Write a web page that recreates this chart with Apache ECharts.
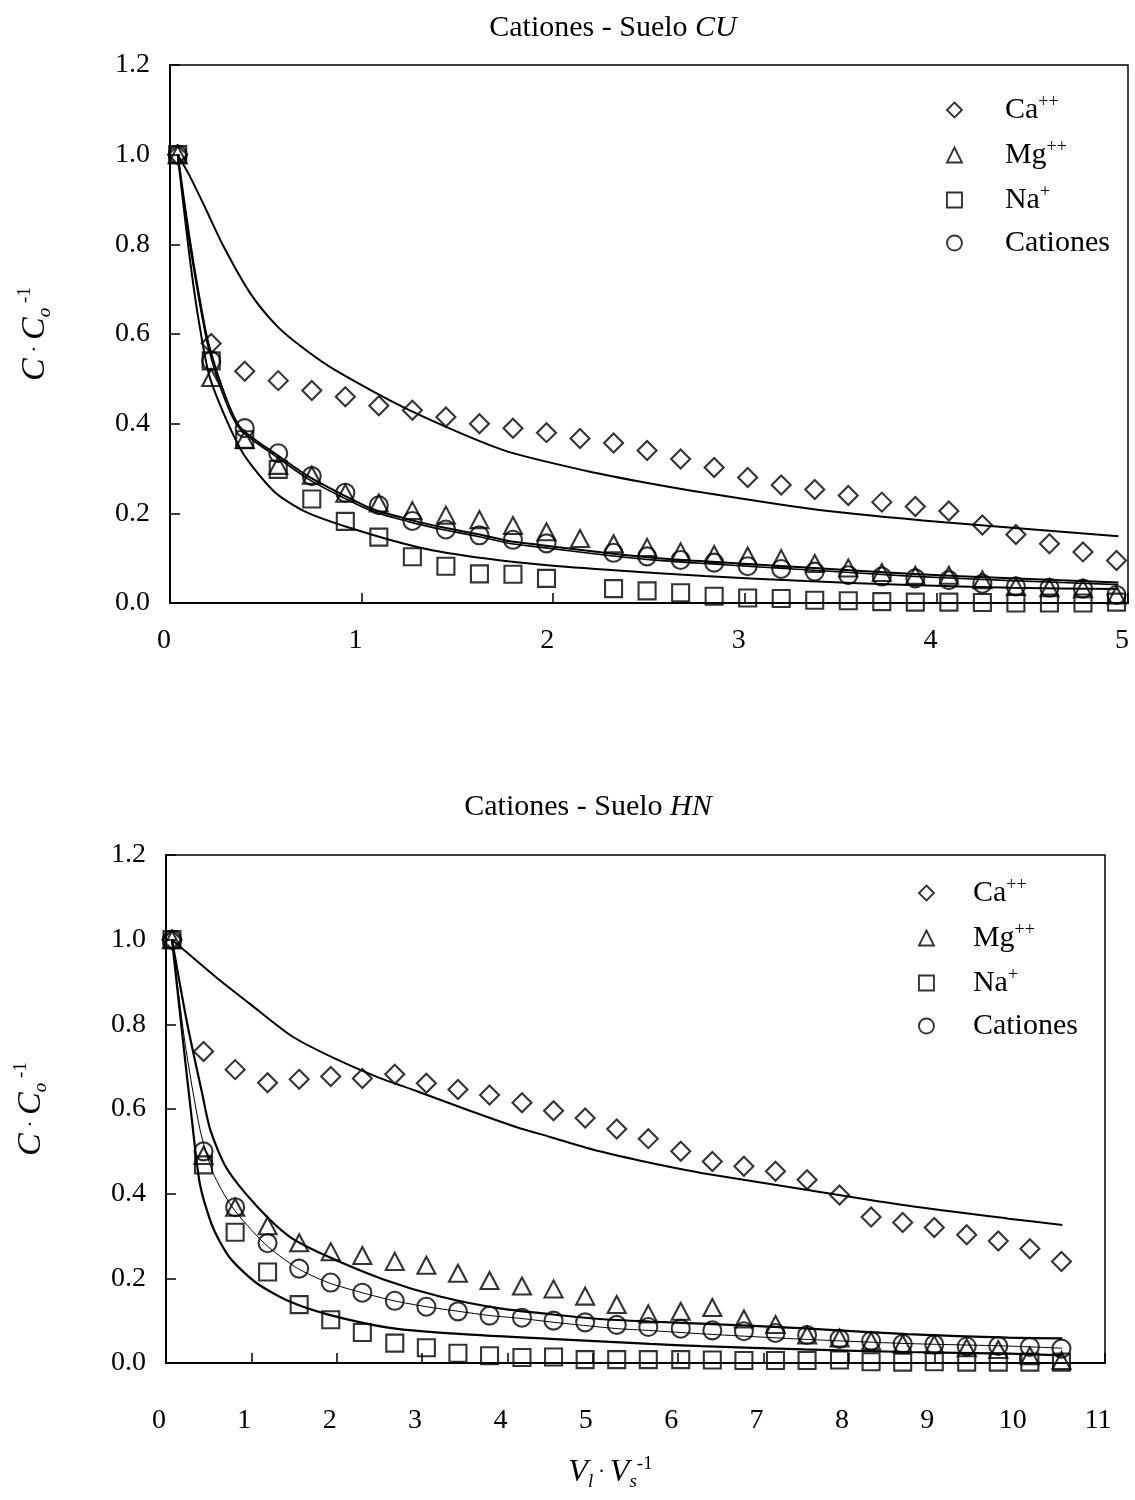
<!DOCTYPE html>
<html><head><meta charset="utf-8">
<script src="https://cdn.jsdelivr.net/npm/echarts@6/dist/echarts.min.js"></script>
<style>html,body{margin:0;padding:0;background:#fff}#c{width:1135px;height:1500px}</style>
</head><body><div id="c"></div>
<script>
// ---------- Tick labels ----------
const Y_TICKS = ['0.0','0.2','0.4','0.6','0.8','1.0','1.2'];
const TOP_X_TICKS = ['0','1','2','3','4','5'];
const BOT_X_TICKS = ['0','1','2','3','4','5','6','7','8','9','10','11'];

// ---------- Suelo CU (top) ----------
const TOP_X   = [0.04,0.215,0.39,0.565,0.74,0.915,1.09,1.265,1.44,1.615,1.79,1.965,2.14,2.315,2.49,2.665,2.84,3.015,3.19,3.365,3.54,3.715,3.89,4.065,4.24,4.415,4.59,4.765,4.94];
const TOP_CA  = [1.0,0.579,0.517,0.496,0.474,0.460,0.440,0.430,0.415,0.400,0.390,0.380,0.367,0.357,0.340,0.321,0.302,0.280,0.263,0.253,0.240,0.225,0.215,0.205,0.174,0.153,0.132,0.114,0.095];
const TOP_MG  = [1.0,0.503,0.365,0.307,0.285,0.245,0.223,0.206,0.196,0.186,0.173,0.159,0.144,0.132,0.124,0.114,0.108,0.105,0.099,0.088,0.078,0.068,0.062,0.062,0.052,0.037,0.034,0.032,0.018];
const TOP_NA  = [1.0,0.54,0.364,0.298,0.232,0.182,0.147,0.103,0.082,0.065,0.064,0.055,null,0.032,0.027,0.023,0.015,0.011,0.010,0.006,0.005,0.003,0.002,0.002,0.001,0.0,0.0,0.0,0.002];
const TOP_CAT = [1.0,0.54,0.39,0.334,0.283,0.246,0.218,0.183,0.164,0.151,0.141,0.133,null,0.112,0.104,0.096,0.090,0.082,0.076,0.070,0.062,0.059,0.055,0.051,0.043,0.037,0.034,0.032,0.018];

const TOP_FIT_CA_X  = [0.04,0.10,0.18,0.28,0.42,0.56,0.70,0.86,1.26,1.74,2.18,2.50,2.73,3.38,4.04,4.95];
const TOP_FIT_CA_Y  = [1.0,0.955,0.885,0.795,0.69,0.617,0.567,0.52,0.428,0.341,0.294,0.267,0.25,0.208,0.18,0.149];
const TOP_FIT_MG_X  = [0.04,0.10,0.15,0.20,0.29,0.37,0.56,0.72,0.89,1.06,1.25,1.42,1.59,1.76,1.94,2.29,2.55,2.79,3.32,3.86,4.39,4.95];
const TOP_FIT_MG_Y  = [1.0,0.82,0.69,0.58,0.46,0.39,0.33,0.283,0.244,0.209,0.186,0.169,0.155,0.139,0.129,0.111,0.100,0.093,0.079,0.065,0.055,0.046];
const TOP_FIT_CAT_Y = [1.0,0.81,0.68,0.57,0.45,0.385,0.325,0.277,0.238,0.204,0.181,0.164,0.150,0.134,0.124,0.106,0.095,0.088,0.074,0.060,0.050,0.041];
const TOP_FIT_NA_X  = [0.04,0.10,0.15,0.21,0.37,0.54,0.70,0.95,1.30,1.65,2.00,2.53,2.79,3.32,3.86,4.39,4.95];
const TOP_FIT_NA_Y  = [1.0,0.78,0.63,0.50,0.342,0.250,0.205,0.166,0.124,0.099,0.083,0.067,0.060,0.049,0.040,0.034,0.031];

// ---------- Suelo HN (bottom) ----------
const BOT_X   = [0.07,0.44,0.81,1.19,1.56,1.93,2.30,2.68,3.05,3.42,3.79,4.17,4.54,4.91,5.28,5.65,6.03,6.40,6.77,7.14,7.51,7.89,8.26,8.63,9.00,9.38,9.75,10.12,10.49];
const BOT_CA  = [1.0,0.736,0.693,0.662,0.670,0.677,0.672,0.682,0.661,0.646,0.633,0.615,0.596,0.579,0.553,0.530,0.500,0.476,0.465,0.453,0.433,0.397,0.345,0.332,0.320,0.303,0.288,0.270,0.240];
const BOT_MG  = [1.0,0.49,0.368,0.324,0.284,0.263,0.254,0.240,0.231,0.212,0.195,0.182,0.175,0.158,0.138,0.116,0.122,0.131,0.104,0.091,0.066,0.059,0.052,0.045,0.044,0.036,0.032,0.017,0.006];
const BOT_NA  = [1.0,0.468,0.309,0.215,0.138,0.102,0.072,0.047,0.036,0.023,0.017,0.013,0.014,0.008,0.008,0.008,0.008,0.007,0.006,0.006,0.006,0.007,0.003,0.002,0.003,0.002,0.002,0.002,0.002];
const BOT_CAT = [1.0,0.50,0.368,0.283,0.223,0.190,0.166,0.147,0.133,0.122,0.112,0.107,0.100,0.096,0.090,0.085,0.081,0.077,0.075,0.071,0.066,0.057,0.052,0.045,0.044,0.039,0.040,0.038,0.034];

const BOT_FIT_CA_X  = [0.07,0.19,0.60,0.98,1.49,2.00,2.47,2.94,3.56,4.11,4.50,5.08,5.67,6.27,7.48,8.68,9.87,10.50];
const BOT_FIT_CA_Y  = [1.0,0.979,0.909,0.849,0.770,0.717,0.676,0.642,0.596,0.557,0.534,0.500,0.473,0.449,0.410,0.372,0.341,0.326];
const BOT_FIT_MG_X  = [0.07,0.25,0.42,0.52,0.71,1.07,1.45,1.89,2.54,3.21,3.91,4.70,5.08,5.67,6.27,7.48,8.68,9.87,10.50];
const BOT_FIT_MG_Y  = [1.0,0.80,0.64,0.55,0.46,0.369,0.298,0.252,0.198,0.157,0.129,0.111,0.104,0.098,0.093,0.082,0.068,0.060,0.058];
const BOT_FIT_CAT_X = [0.07,0.22,0.40,0.55,0.77,1.15,1.53,1.90,2.30,2.67,3.05,3.43,3.80,4.17,4.55,4.93,5.30,5.65,6.27,7.48,8.68,9.87,10.50];
const BOT_FIT_CAT_Y = [1.0,0.76,0.55,0.45,0.37,0.283,0.225,0.190,0.166,0.147,0.133,0.122,0.112,0.105,0.096,0.088,0.081,0.077,0.069,0.056,0.046,0.040,0.035];
const BOT_FIT_NA_X  = [0.07,0.20,0.30,0.40,0.55,0.75,1.06,1.45,1.89,2.62,3.33,4.50,5.67,6.27,7.48,8.68,9.87,10.50];
const BOT_FIT_NA_Y  = [1.0,0.76,0.58,0.42,0.32,0.248,0.189,0.145,0.115,0.083,0.070,0.057,0.045,0.040,0.032,0.026,0.022,0.018];

// ---------- Series names & legend labels ----------
const NAMES = ['Ca','Mg','Na','Cationes'];
const SUPS  = {Ca:'++', Mg:'++', Na:'+', Cationes:''};
const SYMBOLS = {Ca:'diamond', Mg:'triangle', Na:'rect', Cationes:'circle'};

const FONT = 'Liberation Serif, Times New Roman, serif';
const pts = (xs, ys) => xs.map((x,i) => ys[i] == null ? null : [x, ys[i]]).filter(p => p);

function scatter(name, idx, xs, ys) {
  const sizes = {Ca:19, Mg:[18,17], Na:17, Cationes:18};
  return {
    type:'scatter', name, xAxisIndex: idx, yAxisIndex: idx,
    symbol: SYMBOLS[name], symbolSize: sizes[name], clip:false, z:4,
    itemStyle:{color:'transparent', borderColor:'#000', borderWidth:2.1},
    data: pts(xs, ys)
  };
}
function fit(idx, xs, ys, w) {
  return {
    type:'line', xAxisIndex: idx, yAxisIndex: idx, showSymbol:false, symbol:'none',
    smooth:0.25, z:2, silent:true,
    lineStyle:{color:'#000', width:w},
    data: pts(xs, ys)
  };
}

const baseRich = {
  g:{width:36},
  n:{fontFamily:FONT, fontSize:30, color:'#000', lineHeight:34},
  s:{fontFamily:FONT, fontSize:18, color:'#000', verticalAlign:'top', lineHeight:18}
};
function legend(left, top, gap) {
  return {
    orient:'vertical', left, top, itemWidth:15, itemHeight:15, itemGap:13,
    data: NAMES.map(n => ({name:n, icon:SYMBOLS[n]})),
    itemStyle:{color:'transparent', borderColor:'#000', borderWidth:1.9},
    formatter: n => '{g| }{n|' + n + '}' + (SUPS[n] ? '{s|' + SUPS[n] + '}' : ''),
    textStyle:{rich:Object.assign({}, baseRich, {g:{width:gap}})},
    selectedMode:false
  };
}

const axisCommon = {
  axisLine:{show:true, onZero:false, lineStyle:{color:'#000', width:2}},
  axisTick:{show:true, inside:true, length:10, lineStyle:{color:'#000', width:1.5}},
  splitLine:{show:false}
};
function yAxis(idx) {
  return Object.assign({}, axisCommon, {
    type:'value', gridIndex:idx, min:0, max:1.2, interval:0.2,
    axisLabel:{fontFamily:FONT, fontSize:28, color:'#000', margin:20,
      formatter: v => Y_TICKS[Math.round(v/0.2)]},
    name:'{c|C}{p| · }{c|C}{o|o}{s| -1}', nameLocation:'middle', nameGap:116, nameRotate:90,
    nameTextStyle:{rich:{
      c:{fontFamily:FONT, fontStyle:'italic', fontSize:34, color:'#000', lineHeight:38},
      p:{fontFamily:FONT, fontSize:22, color:'#000', lineHeight:38},
      o:{fontFamily:FONT, fontStyle:'italic', fontSize:19, color:'#000', verticalAlign:'bottom', lineHeight:19},
      s:{fontFamily:FONT, fontSize:19, color:'#000', verticalAlign:'top', lineHeight:19}
    }}
  });
}
const titleRich = {
  n:{fontFamily:FONT, fontSize:30, fontWeight:'normal', color:'#000'},
  i:{fontFamily:FONT, fontStyle:'italic', fontWeight:'normal', fontSize:30, color:'#000'}
};

const option = {
  animation:false,
  backgroundColor:'#fff',
  title:[
    {text:'{n|Cationes - Suelo }{i|CU}', left:608, top:8, textAlign:'center',
     textStyle:{fontWeight:'normal', rich:titleRich}},
    {text:'{n|Cationes - Suelo }{i|HN}', left:583, top:787, textAlign:'center',
     textStyle:{fontWeight:'normal', rich:titleRich}}
  ],
  legend:[ legend(941, 88, 38), legend(913, 871, 34) ],
  grid:[
    {left:170, top:65, width:958, height:538, show:true, borderColor:'#000', borderWidth:1.5, backgroundColor:'transparent', containLabel:false, outerBoundsMode:'none'},
    {left:166, top:855, width:939, height:508, show:true, borderColor:'#000', borderWidth:1.5, backgroundColor:'transparent', containLabel:false, outerBoundsMode:'none'}
  ],
  xAxis:[
    Object.assign({}, axisCommon, {type:'value', gridIndex:0, min:0, max:5, interval:1,
      axisLabel:{fontFamily:FONT, fontSize:28, color:'#000', margin:24, padding:[0,12,0,0],
        formatter: v => TOP_X_TICKS[Math.round(v)]}}),
    Object.assign({}, axisCommon, {type:'value', gridIndex:1, min:0, max:11, interval:1,
      axisLabel:{fontFamily:FONT, fontSize:28, color:'#000', margin:44, padding:[0,14,0,0],
        formatter: v => BOT_X_TICKS[Math.round(v)]},
      name:'{v|V}{l|l}{p| · }{v|V}{l|s}{s|-1}', nameLocation:'middle', nameGap:92,
      nameTextStyle:{padding:[0,50,0,0], rich:{
        v:{fontFamily:FONT, fontStyle:'italic', fontSize:32, color:'#000', lineHeight:36},
        l:{fontFamily:FONT, fontStyle:'italic', fontSize:19, color:'#000', verticalAlign:'bottom', lineHeight:19},
        p:{fontFamily:FONT, fontSize:20, color:'#000', lineHeight:36},
        s:{fontFamily:FONT, fontSize:19, color:'#000', verticalAlign:'top', lineHeight:19}
      }}})
  ],
  yAxis:[ yAxis(0), yAxis(1) ],
  series:[
    fit(0, TOP_FIT_CA_X, TOP_FIT_CA_Y, 2),
    fit(0, TOP_FIT_MG_X, TOP_FIT_MG_Y, 2),
    fit(0, TOP_FIT_MG_X, TOP_FIT_CAT_Y, 1.6),
    fit(0, TOP_FIT_NA_X, TOP_FIT_NA_Y, 2),
    scatter('Ca', 0, TOP_X, TOP_CA),
    scatter('Mg', 0, TOP_X, TOP_MG),
    scatter('Na', 0, TOP_X, TOP_NA),
    scatter('Cationes', 0, TOP_X, TOP_CAT),
    fit(1, BOT_FIT_CA_X, BOT_FIT_CA_Y, 2),
    fit(1, BOT_FIT_MG_X, BOT_FIT_MG_Y, 2.2),
    fit(1, BOT_FIT_CAT_X, BOT_FIT_CAT_Y, 1),
    fit(1, BOT_FIT_NA_X, BOT_FIT_NA_Y, 2.2),
    scatter('Ca', 1, BOT_X, BOT_CA),
    scatter('Mg', 1, BOT_X, BOT_MG),
    scatter('Na', 1, BOT_X, BOT_NA),
    scatter('Cationes', 1, BOT_X, BOT_CAT)
  ]
};
const chart = echarts.init(document.getElementById('c'), null, {renderer:'canvas'});
chart.setOption(option);
</script>
</body></html>
